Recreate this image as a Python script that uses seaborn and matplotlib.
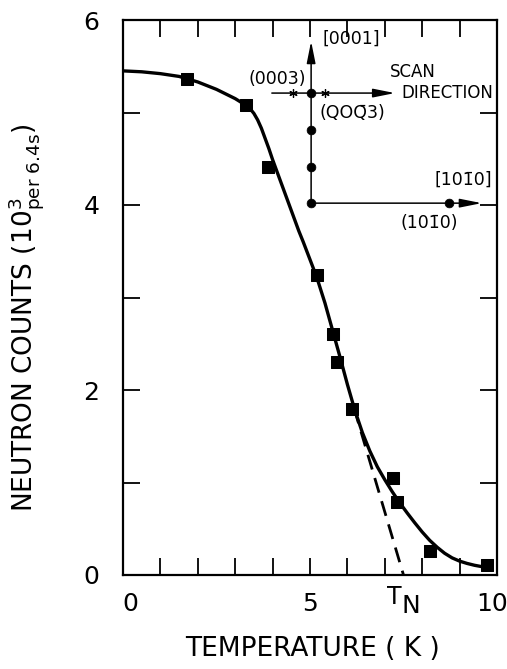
import matplotlib
matplotlib.use("Agg")
import matplotlib.pyplot as plt
from matplotlib.transforms import ScaledTranslation
import seaborn as sns
import pandas as pd

# ---------------- data ----------------
temp_meas = [1.72, 3.29, 3.89, 5.18, 5.62, 5.73, 6.11, 7.23, 7.32, 8.21, 9.72]
counts_meas = [5.36, 5.08, 4.41, 3.24, 2.61, 2.30, 1.80, 1.05, 0.79, 0.26, 0.11]

temp_fit = [0.0, 0.5, 1.0, 1.5, 2.0, 2.5, 2.8, 3.0, 3.2, 3.29, 3.4, 3.5, 3.6,
            3.7, 3.8, 3.9, 4.0, 4.1, 4.2, 4.3, 4.4, 4.5, 4.6, 4.7, 4.82, 5.0,
            5.18, 5.4, 5.6, 5.8, 6.0, 6.2, 6.4, 6.6, 6.8, 7.0, 7.2, 7.4, 7.6,
            7.8, 8.0, 8.2, 8.4, 8.6, 8.8, 9.0, 9.2, 9.4, 9.6, 9.72]
counts_fit = [5.45, 5.44, 5.42, 5.39, 5.33, 5.25, 5.19, 5.15, 5.10, 5.075, 5.04,
              4.99, 4.92, 4.83, 4.72, 4.61, 4.49, 4.38, 4.27, 4.16, 4.05, 3.94,
              3.83, 3.72, 3.60, 3.41, 3.22, 2.94, 2.65, 2.36, 2.06, 1.78, 1.54,
              1.34, 1.17, 1.03, 0.90, 0.78, 0.67, 0.565, 0.465, 0.375, 0.30,
              0.235, 0.185, 0.15, 0.125, 0.105, 0.09, 0.085]

temp_dash = [6.18, 7.50]
counts_dash = [1.80, 0.0]

x_major = [0, 5, 10]
x_minor = list(range(0, 11))
y_major = [0, 2, 4, 6]
y_minor = list(range(0, 7))

# inset (scan geometry schematic), in data coordinates
inset_vert_x = 5.03
inset_vert_y = [4.02, 5.77]
inset_scan_x = [3.98, 7.27]
inset_scan_y = 5.21
inset_low_x = [5.03, 9.59]
inset_low_y = 4.02
inset_dots_x = [5.03, 5.03, 5.03, 5.03, 8.72]
inset_dots_y = [5.21, 4.81, 4.41, 4.02, 4.02]
inset_star_x = [4.55, 5.40]
inset_star_y = [5.21, 5.21]

df_meas = pd.DataFrame({"T": temp_meas, "C": counts_meas})
df_fit = pd.DataFrame({"T": temp_fit, "C": counts_fit})
df_dash = pd.DataFrame({"T": temp_dash, "C": counts_dash})

# ---------------- style ----------------
sns.set_theme(style="ticks")
plt.rcParams["font.family"] = ["DejaVu Sans"]
plt.rcParams["mathtext.fontset"] = "dejavusans"
for k in ["text.color", "axes.labelcolor", "xtick.color", "ytick.color",
          "axes.edgecolor"]:
    plt.rcParams[k] = "black"

fig = plt.figure(figsize=(5.07, 6.69), dpi=100)
ax = fig.add_axes([123 / 507, 1 - 575 / 669, 374 / 507, 555 / 669])

sns.lineplot(data=df_fit, x="T", y="C", ax=ax, color="black", lw=2.4,
             sort=False, estimator=None)
sns.lineplot(data=df_dash, x="T", y="C", ax=ax, color="black", lw=2.0,
             linestyle=(0, (5.5, 3.2)), estimator=None)
sns.scatterplot(data=df_meas, x="T", y="C", ax=ax, marker="s", s=85,
                color="black", edgecolor="black", zorder=5)

# inset schematic
arrow_kw = dict(arrowstyle="-|>,head_length=1.1,head_width=0.22", lw=1.1,
                color="black", shrinkA=0, shrinkB=0)
ax.annotate("", xy=(inset_vert_x, inset_vert_y[1]), xytext=(inset_vert_x, inset_vert_y[0]),
            arrowprops=arrow_kw)
ax.annotate("", xy=(inset_scan_x[1], inset_scan_y), xytext=(inset_scan_x[0], inset_scan_y),
            arrowprops=arrow_kw)
ax.annotate("", xy=(inset_low_x[1], inset_low_y), xytext=(inset_low_x[0], inset_low_y),
            arrowprops=arrow_kw)
sns.scatterplot(x=inset_dots_x, y=inset_dots_y, ax=ax, marker="o", s=40,
                color="black", edgecolor="black", zorder=6)
ax.plot(inset_star_x, inset_star_y, linestyle="none", marker=(6, 2, 0),
        markersize=6, color="black", mew=0.9, zorder=6)

fs_in = 12.5
ax.text(5.33, 5.80, "[0001]", fontsize=fs_in, ha="left", va="center")
ax.text(4.88, 5.36, "(0003)", fontsize=fs_in, ha="right", va="center")
ax.text(5.25, 5.00, "(QOQ\u03043)", fontsize=fs_in, ha="left", va="center")
ax.text(7.14, 5.44, "SCAN", fontsize=12, ha="left", va="center")
ax.text(7.45, 5.21, "DIRECTION", fontsize=12, ha="left", va="center")
ax.text(9.86, 4.27, "[101\u03040]", fontsize=fs_in, ha="right", va="center")
ax.text(8.19, 3.80, "(101\u03040)", fontsize=fs_in, ha="center", va="center")

# T_N marker under axis
ax.text(7.25, -0.235, "T", fontsize=17, ha="center", va="center", clip_on=False)
ax.text(7.71, -0.33, "N", fontsize=18, ha="center", va="center", clip_on=False)

# axes
ax.set_xlim(0, 10)
ax.set_ylim(0, 6)
ax.set_xticks(x_major)
ax.set_xticks(x_minor, minor=True)
ax.set_yticks(y_major)
ax.set_yticks(y_minor, minor=True)
ax.set_xticklabels([str(v) for v in x_major])
ax.set_yticklabels([str(v) for v in y_major])
ax.tick_params(which="both", direction="in", length=12, width=1.3,
               top=True, right=True, colors="black")
ax.tick_params(axis="x", which="major", labelsize=18, pad=12)
ax.tick_params(axis="y", which="major", labelsize=18, pad=17)
for s in ax.spines.values():
    s.set_linewidth(1.6)
    s.set_color("black")

# nudge end tick labels like the reference
xl = ax.get_xticklabels()
shifts_px = [7, 0, -5]
for lab, dx in zip(xl, shifts_px):
    lab.set_transform(lab.get_transform() + ScaledTranslation(dx / 100, 0, fig.dpi_scale_trans))

ax.set_xlabel("TEMPERATURE ( K )", fontsize=19)
ax.set_ylabel(r"NEUTRON COUNTS (10$^{3}_{\mathregular{per\ 6.4s}}$)", fontsize=19)
ax.xaxis.set_label_coords(0.508, -0.11)
ax.yaxis.set_label_coords(-0.205, 0.464)

fig.savefig("out.png", dpi=100)
